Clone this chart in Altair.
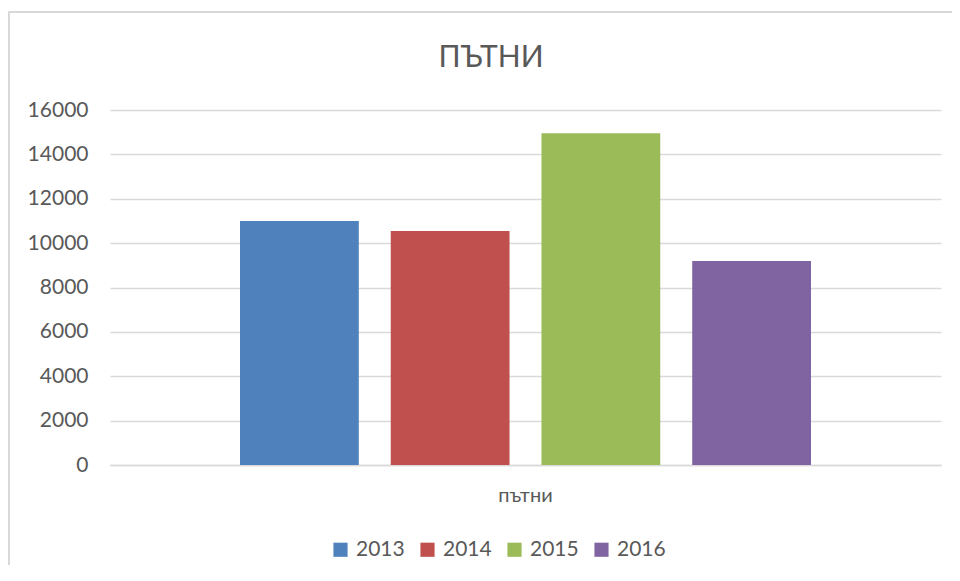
import altair as alt
import pandas as pd

title_text = "ПЪТНИ"
categories = ["пътни"]
years = ["2013", "2014", "2015", "2016"]
values = [11000, 10550, 14950, 9200]
colors = ["#4F81BD", "#C0504D", "#9BBB59", "#8064A2"]
y_ticks = [0, 2000, 4000, 6000, 8000, 10000, 12000, 14000, 16000]

df = pd.DataFrame({"cat": categories * len(years), "year": years, "value": values})
frame_df = pd.DataFrame({"k": [0]})
title_df = pd.DataFrame({"t": [title_text]})

FONT = "Lato"
GRAY = "#d9d9d9"
TXT = "#595959"

bars = alt.Chart(df).mark_bar().encode(
    x=alt.X("cat:N", title=None,
            scale=alt.Scale(paddingOuter=0.2277, paddingInner=0),
            axis=alt.Axis(labelAngle=0, labelFont=FONT, labelFontSize=20, labelColor=TXT,
                          labelPadding=20, ticks=False, domain=True, domainColor=GRAY,
                          domainWidth=1.5)),
    xOffset=alt.XOffset("year:N", scale=alt.Scale(paddingInner=0.212, paddingOuter=0)),
    y=alt.Y("value:Q", title=None,
            scale=alt.Scale(domain=[0, 16000], nice=False),
            axis=alt.Axis(values=y_ticks, format="d", labelFont=FONT, labelFontSize=21,
                          labelColor=TXT, labelPadding=22, ticks=False, domain=False,
                          gridColor=GRAY, gridWidth=1.5)),
    color=alt.Color("year:N", scale=alt.Scale(domain=years, range=colors),
                    legend=alt.Legend(title=None, orient="none", direction="horizontal",
                                      legendX=220, legendY=429, symbolType="square",
                                      symbolSize=200, symbolStrokeWidth=0,
                                      labelFont=FONT, labelFontSize=21, labelColor=TXT,
                                      columnPadding=12, labelOffset=5)),
)

frame = alt.Chart(frame_df).mark_rect(fill=None, stroke=GRAY, strokeWidth=2).encode(
    x=alt.value(-101), x2=alt.value(900), y=alt.value(-98), y2=alt.value(600)
)

title = alt.Chart(title_df).mark_text(
    font=FONT, fontSize=30, color=TXT, align="center", baseline="alphabetic"
).encode(text="t:N", x=alt.value(381), y=alt.value(-43))

chart = alt.layer(frame, bars, title).properties(
    width=831, height=355,
    autosize=alt.AutoSizeParams(type="none"),
    padding={"left": 102, "top": 102, "right": 11, "bottom": 100},
).configure_view(stroke=None)

chart.save("out.html", embed_options={"renderer": "svg", "actions": False})
